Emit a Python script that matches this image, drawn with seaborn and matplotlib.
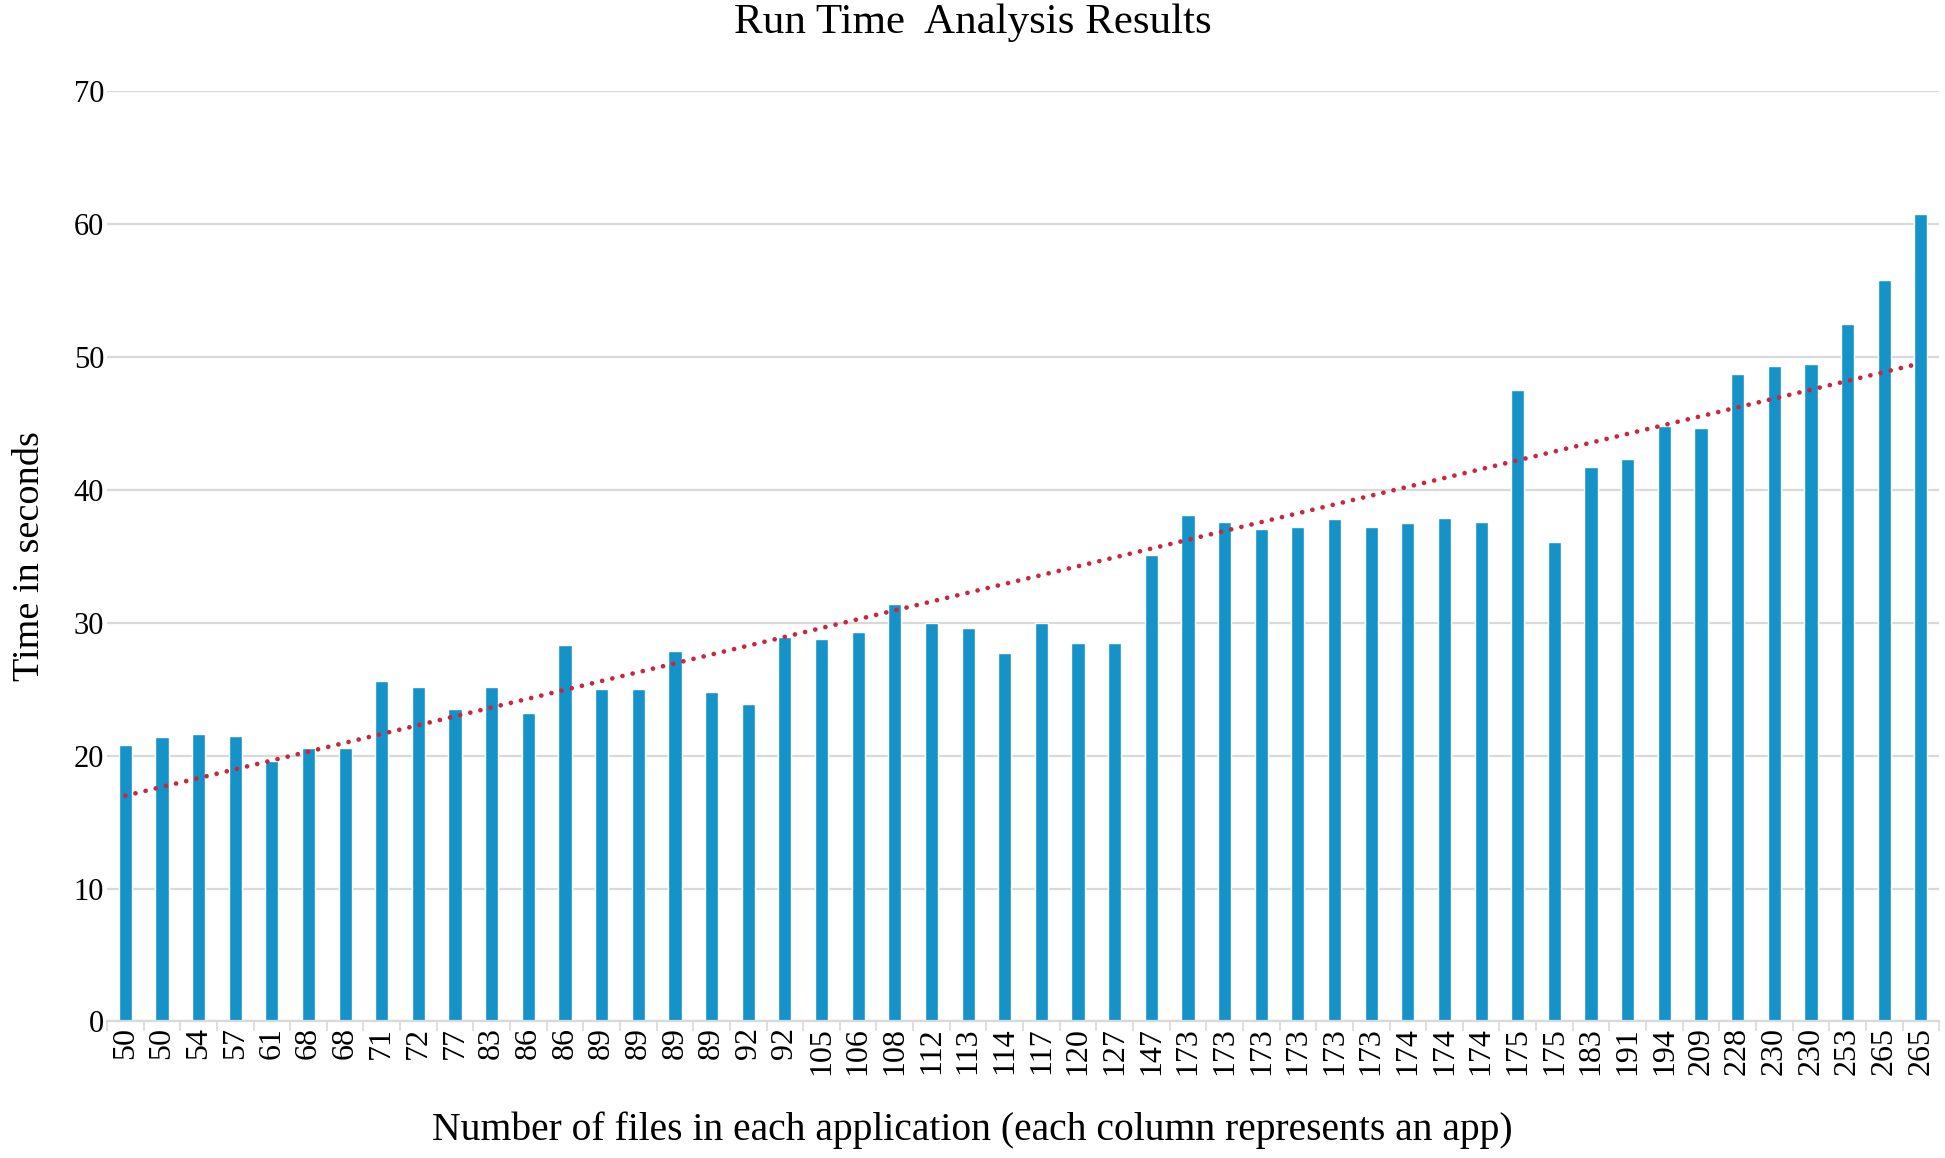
import numpy as np
import pandas as pd
import matplotlib
matplotlib.use("Agg")
import matplotlib.pyplot as plt
from matplotlib.ticker import FixedLocator
import seaborn as sns

# ─── Data ─────────────────────────────────────────────────────────────────────
files_per_app = [50, 50, 54, 57, 61, 68, 68, 71, 72, 77, 83, 86, 86, 89, 89,
                 89, 89, 92, 92, 105, 106, 108, 112, 113, 114, 117, 120, 127,
                 147, 173, 173, 173, 173, 173, 173, 174, 174, 174, 175, 175,
                 183, 191, 194, 209, 228, 230, 230, 253, 265, 265]

run_time_sec = [20.8, 21.4, 21.6, 21.5, 19.6, 20.6, 20.6, 25.6, 25.2, 23.5,
                25.2, 23.2, 28.3, 25.0, 25.0, 27.9, 24.8, 23.9, 28.9, 28.8,
                29.3, 31.4, 30.0, 29.6, 27.7, 30.0, 28.5, 28.5, 35.1, 38.1,
                37.6, 37.1, 37.2, 37.8, 37.2, 37.5, 37.9, 37.6, 47.5, 36.1,
                41.7, 42.3, 44.8, 44.7, 48.7, 49.3, 49.5, 52.5, 55.8, 60.8]

y_ticks = [0, 10, 20, 30, 40, 50, 60, 70]

# ─── Style ────────────────────────────────────────────────────────────────────
BAR_COLOR   = "#1592c8"
TREND_COLOR = "#c8283c"
GRID_COLOR  = "#d9d9d9"

sns.set_theme(style="white")
plt.rcParams["font.family"] = ["Liberation Serif", "DejaVu Serif"]
plt.rcParams["text.color"] = "black"
plt.rcParams["xtick.color"] = "black"
plt.rcParams["ytick.color"] = "black"
plt.rcParams["axes.labelcolor"] = "black"

df = pd.DataFrame({
    "app": np.arange(len(files_per_app)),
    "files": files_per_app,
    "time": run_time_sec,
})

fig = plt.figure(figsize=(19.45, 11.58), dpi=100)
ax = fig.add_axes([0.055, 0.118, 0.942, 0.803])

sns.barplot(data=df, x="app", y="time", color=BAR_COLOR, width=0.36,
            saturation=1, ax=ax)

# linear trend line (Excel style)
slope, intercept = np.polyfit(df["app"], df["time"], 1)
ax.plot(df["app"], slope * df["app"] + intercept, color=TREND_COLOR,
        linestyle=(0, (0.01, 2.2)), linewidth=3.4, dash_capstyle="round",
        zorder=4)

# axes / grid
ax.set_ylim(0, 70)
ax.set_xlim(-0.5, len(df) - 0.5)
ax.set_yticks(y_ticks)
ax.yaxis.grid(True, color=GRID_COLOR, linewidth=1.6)
ax.set_axisbelow(True)
for side in ["top", "right", "left"]:
    ax.spines[side].set_visible(False)
ax.spines["bottom"].set_color(GRID_COLOR)
ax.spines["bottom"].set_linewidth(1.6)

ax.set_xticks(df["app"])
ax.set_xticklabels([str(v) for v in files_per_app], rotation=90, fontsize=23)
ax.xaxis.set_minor_locator(FixedLocator(np.arange(len(df) + 1) - 0.5))
ax.tick_params(axis="x", which="major", length=0, pad=4)
ax.tick_params(axis="x", which="minor", length=7, width=1.2, color=GRID_COLOR,
               bottom=True)
ax.tick_params(axis="y", length=0, labelsize=22, pad=2)

ax.set_xlabel("Number of files in each application (each column represents an app)",
              fontsize=28.5)
ax.xaxis.set_label_coords(0.5, 0.040, transform=fig.transFigure)
ax.set_ylabel("Time in seconds", fontsize=27.5)
ax.yaxis.set_label_coords(-0.033, 0.5)
fig.suptitle("Run Time  Analysis Results", x=0.5, y=0.997, va="top", fontsize=31)

plt.savefig("out.png", dpi=100)
plt.close()
